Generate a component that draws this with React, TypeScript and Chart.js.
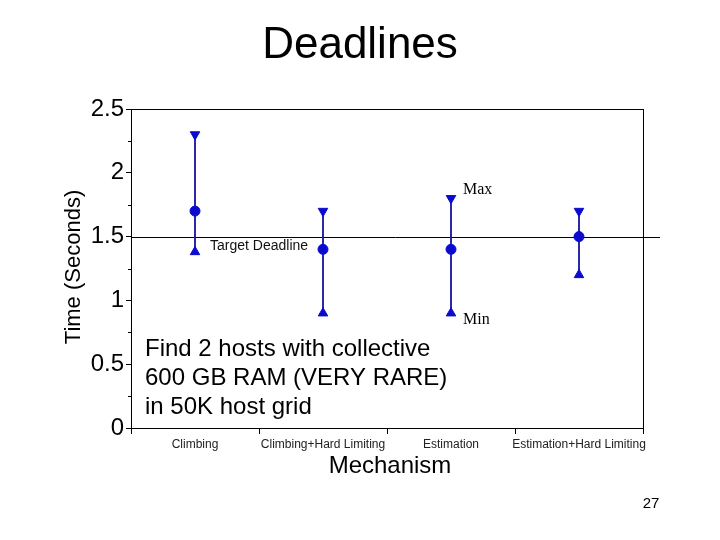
import { useEffect, useRef } from 'react';
import { Chart, registerables } from 'chart.js';

Chart.register(...registerables);

const categories = ['Climbing', 'Climbing+Hard Limiting', 'Estimation', 'Estimation+Hard Limiting'];
const meanTimes = [1.7, 1.4, 1.4, 1.5];
const maxTimes = [2.3, 1.7, 1.8, 1.7];
const minTimes = [1.38, 0.9, 0.9, 1.2];
const targetDeadline = 1.5;
const yMin = 0;
const yMax = 2.5;
const yMajorStep = 0.5;
const yMinorStep = 0.25;

const titleText = 'Deadlines';
const yTitle = 'Time (Seconds)';
const xTitle = 'Mechanism';
const targetLabel = 'Target Deadline';
const maxLabel = 'Max';
const minLabel = 'Min';
const noteLines = ['Find 2 hosts with collective', '600 GB RAM (VERY RARE)', 'in 50K host grid'];
const pageNumber = '27';

const markerColor = '#0b0bd0';
const whiskerColor = '#1a1aa0';

export default function App() {
  const ref = useRef<HTMLCanvasElement>(null);

  useEffect(() => {
    const canvas = ref.current;
    if (!canvas) return;

    const overlay = {
      id: 'overlay',
      beforeDatasetsDraw(chart: any) {
        const { ctx, chartArea, scales } = chart;
        const y = scales.y;
        ctx.save();
        const ty = Math.round(y.getPixelForValue(targetDeadline)) + 0.5;
        ctx.strokeStyle = '#000';
        ctx.lineWidth = 1;
        ctx.beginPath();
        ctx.moveTo(chartArea.left, ty);
        ctx.lineTo(chartArea.right + 17, ty);
        ctx.stroke();
        for (let v = yMin + yMinorStep; v < yMax; v += yMajorStep) {
          const py = Math.round(y.getPixelForValue(v)) + 0.5;
          ctx.beginPath();
          ctx.moveTo(chartArea.left - 3, py);
          ctx.lineTo(chartArea.left, py);
          ctx.stroke();
        }
        ctx.restore();
      },
      afterDraw(chart: any) {
        const { ctx, chartArea, scales } = chart;
        const x = scales.x;
        const y = scales.y;
        ctx.save();
        ctx.strokeStyle = '#000';
        ctx.lineWidth = 1;
        ctx.strokeRect(
          Math.round(chartArea.left) + 0.5,
          Math.round(chartArea.top) + 0.5,
          Math.round(chartArea.right - chartArea.left),
          Math.round(chartArea.bottom - chartArea.top)
        );
        ctx.fillStyle = '#000';
        ctx.textAlign = 'center';
        ctx.textBaseline = 'middle';
        ctx.font = '44px Arial, "Liberation Sans", sans-serif';
        ctx.fillText(titleText, 360, 46);

        ctx.font = '24px Arial, "Liberation Sans", sans-serif';
        ctx.fillText(xTitle, 390, 466);

        ctx.save();
        ctx.translate(74, 267);
        ctx.rotate(-Math.PI / 2);
        ctx.font = '22px Arial, "Liberation Sans", sans-serif';
        ctx.fillText(yTitle, 0, 0);
        ctx.restore();

        ctx.font = '15px Arial, "Liberation Sans", sans-serif';
        ctx.fillText(pageNumber, 651, 504);

        ctx.textAlign = 'left';
        ctx.font = '14px Arial, "Liberation Sans", sans-serif';
        ctx.fillStyle = '#111';
        ctx.fillText(targetLabel, x.getPixelForValue(0) + 15, y.getPixelForValue(targetDeadline) + 10);

        ctx.font = '16px "Liberation Serif", "Times New Roman", serif';
        ctx.fillStyle = '#000';
        ctx.fillText(maxLabel, x.getPixelForValue(2) + 12, y.getPixelForValue(maxTimes[2]) - 9);
        ctx.fillText(minLabel, x.getPixelForValue(2) + 12, y.getPixelForValue(minTimes[2]) + 7);

        ctx.font = '24px Arial, "Liberation Sans", sans-serif';
        noteLines.forEach((line, i) => {
          ctx.fillText(line, chartArea.left + 14, 349 + i * 29);
        });
        ctx.restore();
      },
    };

    const chart = new Chart(canvas, {
      type: 'bar',
      data: {
        labels: categories,
        datasets: [
          {
            type: 'bar',
            label: 'Range',
            data: categories.map((_, i) => [minTimes[i], maxTimes[i]]) as any,
            backgroundColor: whiskerColor,
            borderWidth: 0,
            barThickness: 1.2,
            order: 3,
          },
          {
            type: 'line',
            label: 'Mean',
            data: meanTimes,
            showLine: false,
            pointStyle: 'circle',
            pointRadius: 5,
            backgroundColor: markerColor,
            borderColor: markerColor,
            order: 0,
          },
          {
            type: 'line',
            label: 'Max',
            data: maxTimes,
            showLine: false,
            pointStyle: 'triangle',
            pointRotation: 180,
            pointRadius: 5.5,
            backgroundColor: markerColor,
            borderColor: markerColor,
            order: 1,
          },
          {
            type: 'line',
            label: 'Min',
            data: minTimes,
            showLine: false,
            pointStyle: 'triangle',
            pointRadius: 5.5,
            backgroundColor: markerColor,
            borderColor: markerColor,
            order: 1,
          },
        ] as any,
      },
      options: {
        animation: false,
        responsive: false,
        maintainAspectRatio: false,
        events: [],
        layout: { padding: { left: 0, top: 109, right: 77, bottom: 82 } },
        plugins: {
          legend: { display: false },
          tooltip: { enabled: false },
          title: { display: false },
        },
        scales: {
          x: {
            type: 'category',
            offset: true,
            afterFit: (scale: any) => {
              scale.height = 30;
            },
            grid: {
              offset: true,
              drawOnChartArea: false,
              drawTicks: true,
              tickLength: 6,
              color: '#000',
            },
            border: { display: true, color: '#000', width: 1 },
            ticks: {
              color: '#222',
              font: { family: 'Arial, "Liberation Sans", sans-serif', size: 12 },
              padding: 3,
              maxRotation: 0,
              minRotation: 0,
              autoSkip: false,
            },
          },
          y: {
            type: 'linear',
            min: yMin,
            max: yMax,
            afterFit: (scale: any) => {
              scale.width = 131;
            },
            grid: {
              drawOnChartArea: false,
              drawTicks: true,
              tickLength: 5,
              color: '#000',
            },
            border: { display: true, color: '#000', width: 1 },
            ticks: {
              stepSize: yMajorStep,
              color: '#000',
              padding: 2,
              font: { family: 'Arial, "Liberation Sans", sans-serif', size: 24 },
              callback: (v: any) => String(v),
            },
          },
        },
      },
      plugins: [overlay],
    });

    return () => chart.destroy();
  }, []);

  return (
    <div style={{ position: 'fixed', left: 0, top: 0, width: 720, height: 540, background: '#fff' }}>
      <canvas ref={ref} width={720} height={540} style={{ display: 'block' }} />
    </div>
  );
}
